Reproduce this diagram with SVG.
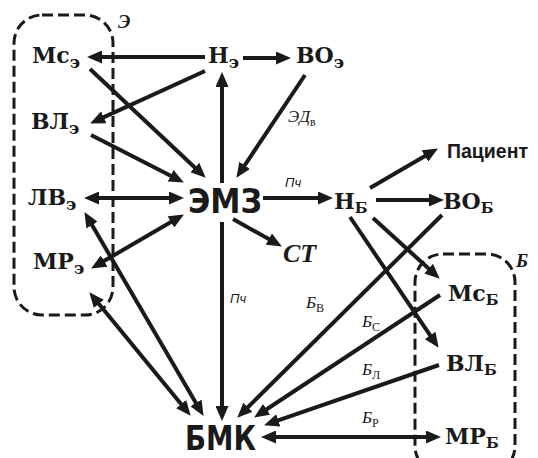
<svg xmlns="http://www.w3.org/2000/svg" width="538" height="458" viewBox="0 0 538 458">
<defs>
<style>
.n{font-family:"DejaVu Serif","Liberation Serif",serif;font-weight:bold;font-size:22px;fill:#1a1a1a}
.s{font-size:17px}
.sb{font-size:15px}
.big{font-family:"DejaVu Sans","Liberation Sans",sans-serif;font-weight:bold;font-size:33px;fill:#1a1a1a}
.pat{font-family:"Liberation Sans",Arial,sans-serif;font-weight:bold;font-size:21px;fill:#1a1a1a}
.ct{font-family:"Liberation Serif","Times New Roman",serif;font-weight:bold;font-style:italic;font-size:26px;fill:#1a1a1a}
.lb{font-family:"Liberation Serif","Times New Roman",serif;font-style:italic;font-size:17px;fill:#1a1a1a}
.lbs{font-style:normal;font-size:12px}
.pc{font-family:"Liberation Sans",Arial,sans-serif;font-style:italic;font-size:13px;fill:#1a1a1a}
.grp{font-family:"Liberation Serif","Times New Roman",serif;font-style:italic;font-weight:bold;font-size:19px;fill:#1a1a1a}
.e{stroke:#1a1a1a;stroke-width:4;fill:none}
.d{stroke:#1a1a1a;stroke-width:3;fill:none;stroke-dasharray:11 5}
</style>
<marker id="a" viewBox="0 -6.5 15 13" refX="4" refY="0" markerWidth="15" markerHeight="13" markerUnits="userSpaceOnUse" orient="auto-start-reverse">
<path d="M0,-6.5 L15,0 L0,6.5 z" fill="#1a1a1a"/>
</marker>
</defs>

<g id="group-E">
<rect class="d" x="14" y="15" width="99" height="300" rx="28"/>
<text class="grp" x="118" y="28">Э</text>
</g>
<g id="group-B">
<rect class="d" x="415" y="254" width="100" height="220" rx="28"/>
<text class="grp" x="516" y="267">Б</text>
</g>

<g id="connectors">
<line class="e" x1="205" y1="57" x2="98" y2="57" marker-end="url(#a)"/>
<line class="e" x1="243" y1="58" x2="280" y2="58" marker-end="url(#a)"/>
<line class="e" x1="205" y1="71" x2="100.1" y2="118.9" marker-end="url(#a)"/>
<line class="e" x1="222" y1="183" x2="222" y2="83" marker-end="url(#a)"/>
<line class="e" x1="90" y1="69" x2="197.7" y2="170.2" marker-end="url(#a)"/>
<line class="e" x1="91" y1="135" x2="174.1" y2="177.5" marker-end="url(#a)"/>
<line class="e" x1="305" y1="75" x2="242.5" y2="168.7" marker-end="url(#a)"/>
<line class="e" x1="95" y1="198" x2="173" y2="198" marker-start="url(#a)" marker-end="url(#a)"/>
<line class="e" x1="100.6" y1="263" x2="174.4" y2="220" marker-start="url(#a)" marker-end="url(#a)"/>
<line class="e" x1="233" y1="219" x2="272.3" y2="241.1" marker-end="url(#a)"/>
<line class="e" x1="263" y1="198" x2="322" y2="198" marker-end="url(#a)"/>
<line class="e" x1="222" y1="222" x2="222" y2="410" marker-end="url(#a)"/>
<line class="e" x1="370" y1="188" x2="428.4" y2="154" marker-end="url(#a)"/>
<line class="e" x1="376" y1="200" x2="433" y2="200" marker-end="url(#a)"/>
<line class="e" x1="373" y1="218" x2="431.6" y2="271.3" marker-end="url(#a)"/>
<line class="e" x1="350" y1="217" x2="432.4" y2="338.7" marker-end="url(#a)"/>
<line class="e" x1="442" y1="215" x2="245.1" y2="410" marker-end="url(#a)"/>
<line class="e" x1="440" y1="295" x2="263.3" y2="411.5" marker-end="url(#a)"/>
<line class="e" x1="439" y1="365" x2="274.5" y2="421.7" marker-end="url(#a)"/>
<line class="e" x1="272" y1="437" x2="430" y2="437" marker-start="url(#a)" marker-end="url(#a)"/>
<line class="e" x1="96.3" y1="300.7" x2="183.7" y2="407.3" marker-start="url(#a)" marker-end="url(#a)"/>
<line class="e" x1="90" y1="221.6" x2="198" y2="406.4" marker-start="url(#a)" marker-end="url(#a)"/>
<text class="pc" x="285" y="187">Пч</text>
<text class="pc" x="230" y="303">Пч</text>
<text class="lb" x="288" y="122">ЭД<tspan class="lbs" dy="4">в</tspan></text>
<text class="lb" x="306" y="308">Б<tspan class="lbs" dy="4">В</tspan></text>
<text class="lb" x="362" y="327">Б<tspan class="lbs" dy="4">С</tspan></text>
<text class="lb" x="362" y="375">Б<tspan class="lbs" dy="4">Л</tspan></text>
<text class="lb" x="362" y="423">Б<tspan class="lbs" dy="4">Р</tspan></text>
</g>

<g id="Ms-E"><text class="n" x="32" y="63">Мс<tspan class="s" dy="5">э</tspan></text></g>
<g id="N-E"><text class="n" x="208" y="63">Н<tspan class="s" dy="5">э</tspan></text></g>
<g id="VO-E"><text class="n" x="296" y="63">ВО<tspan class="s" dy="5">э</tspan></text></g>
<g id="VL-E"><text class="n" x="31" y="129">ВЛ<tspan class="s" dy="5">э</tspan></text></g>
<g id="LV-E"><text class="n" x="28" y="205">ЛВ<tspan class="s" dy="5">э</tspan></text></g>
<g id="MR-E"><text class="n" x="33" y="269">МР<tspan class="s" dy="5">э</tspan></text></g>
<g id="EMZ"><text class="big" x="188" y="213" textLength="74" lengthAdjust="spacingAndGlyphs">ЭМЗ</text></g>
<g id="ST"><text class="ct" x="283" y="262">СТ</text></g>
<g id="N-B"><text class="n" x="334" y="209">Н<tspan class="sb" dy="4">Б</tspan></text></g>
<g id="Patient"><text class="pat" x="447" y="158" textLength="81" lengthAdjust="spacingAndGlyphs">Пациент</text></g>
<g id="VO-B"><text class="n" x="443" y="209">ВО<tspan class="sb" dy="4">Б</tspan></text></g>
<g id="Ms-B"><text class="n" x="448" y="301">Мс<tspan class="sb" dy="4">Б</tspan></text></g>
<g id="VL-B"><text class="n" x="446" y="371">ВЛ<tspan class="sb" dy="4">Б</tspan></text></g>
<g id="MR-B"><text class="n" x="445" y="444">МР<tspan class="sb" dy="4">Б</tspan></text></g>
<g id="BMK"><text class="big" x="185" y="450" textLength="71" lengthAdjust="spacingAndGlyphs">БМК</text></g>
</svg>
